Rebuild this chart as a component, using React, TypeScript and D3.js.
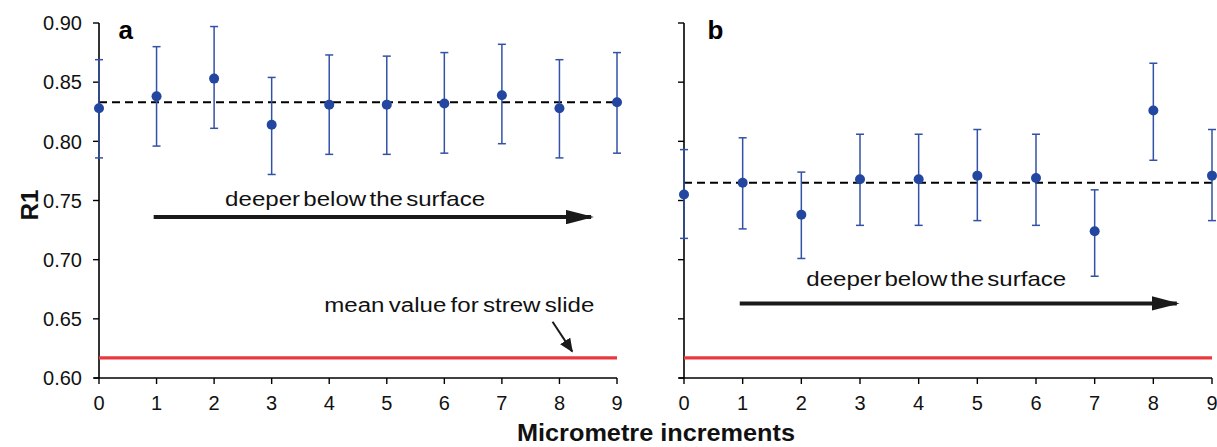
import * as d3 from 'd3';

// Micrometre increments (x categories)
const increments = [0, 1, 2, 3, 4, 5, 6, 7, 8, 9];
const yTicks = [0.6, 0.65, 0.7, 0.75, 0.8, 0.85, 0.9];

// Panel a
const meanA = [0.828, 0.838, 0.853, 0.814, 0.831, 0.831, 0.832, 0.839, 0.828, 0.833];
const upperA = [0.869, 0.88, 0.897, 0.854, 0.873, 0.872, 0.875, 0.882, 0.869, 0.875];
const lowerA = [0.786, 0.796, 0.811, 0.772, 0.789, 0.789, 0.79, 0.798, 0.786, 0.79];
const overallA = 0.833;

// Panel b
const meanB = [0.755, 0.765, 0.738, 0.768, 0.768, 0.771, 0.769, 0.724, 0.826, 0.771];
const upperB = [0.793, 0.803, 0.774, 0.806, 0.806, 0.81, 0.806, 0.759, 0.866, 0.81];
const lowerB = [0.718, 0.726, 0.701, 0.729, 0.729, 0.733, 0.729, 0.686, 0.784, 0.733];
const overallB = 0.765;

// mean value for strew slide
const strewMean = 0.617;

const FONT = 'Arial, "Liberation Sans", Helvetica, sans-serif';
const DOT = '#2346a0';
const BAR = '#3352a6';
const RED = '#e8393e';
const INK = '#1a1a1a';

const y = d3.scaleLinear().domain([0.6, 0.9]).range([378, 23]);

interface PanelProps {
  id: string;
  label: string;
  labelAt: number;
  x0: number;
  x1: number;
  means: number[];
  uppers: number[];
  lowers: number[];
  overall: number;
  showYLabels: boolean;
  arrow: { from: number; to: number; y: number; textX: number; textY: number };
  note?: boolean;
}

function Panel({ id, label, labelAt, x0, x1, means, uppers, lowers, overall, showYLabels, arrow, note }: PanelProps) {
  const x = d3.scaleLinear().domain([0, 9]).range([x0, x1]);
  const cap = 4;
  return (
    <g>
      <defs>
        <marker id={`head-${id}`} viewBox="0 0 10 10" refX="9" refY="5" markerWidth="7" markerHeight="3.6" orient="auto" markerUnits="strokeWidth" preserveAspectRatio="none">
          <path d="M0,0 L10,5 L0,10 Z" fill={INK} />
        </marker>
        <marker id={`small-${id}`} viewBox="0 0 10 10" refX="9" refY="5" markerWidth="7" markerHeight="6" orient="auto" markerUnits="strokeWidth" preserveAspectRatio="none">
          <path d="M0,0 L10,5 L0,10 Z" fill={INK} />
        </marker>
      </defs>

      {/* axes */}
      <line x1={x(0)} x2={x(0)} y1={y(0.9)} y2={y(0.6)} stroke="#000" strokeWidth={1.6} />
      <line x1={x(0) - 5} x2={x(9)} y1={y(0.6)} y2={y(0.6)} stroke="#000" strokeWidth={1.6} />
      {yTicks.map((t) => (
        <g key={t}>
          <line x1={x(0) - 6} x2={x(0)} y1={y(t)} y2={y(t)} stroke="#000" strokeWidth={1.4} />
          {showYLabels && (
            <text x={x(0) - 17} y={y(t)} dy="0.36em" textAnchor="end" fontSize={20} fontFamily={FONT} fill="#111">
              {d3.format('.2f')(t)}
            </text>
          )}
        </g>
      ))}
      {increments.map((t) => (
        <g key={t}>
          <line x1={x(t)} x2={x(t)} y1={y(0.6)} y2={y(0.6) + 6} stroke="#000" strokeWidth={1.4} />
          <text x={x(t)} y={y(0.6) + 32} textAnchor="middle" fontSize={20} fontFamily={FONT} fill="#111">
            {t}
          </text>
        </g>
      ))}

      {/* strew slide mean */}
      <line x1={x(0)} x2={x(9)} y1={y(strewMean)} y2={y(strewMean)} stroke={RED} strokeWidth={3.2} />

      {/* overall mean */}
      <line x1={x(0)} x2={x(9)} y1={y(overall)} y2={y(overall)} stroke="#000" strokeWidth={2} strokeDasharray="8 5" />

      {/* error bars and points */}
      {increments.map((t, i) => (
        <g key={t}>
          <line x1={x(t)} x2={x(t)} y1={y(uppers[i])} y2={y(lowers[i])} stroke={BAR} strokeWidth={1.5} />
          <line x1={x(t) - cap} x2={x(t) + cap} y1={y(uppers[i])} y2={y(uppers[i])} stroke={BAR} strokeWidth={1.5} />
          <line x1={x(t) - cap} x2={x(t) + cap} y1={y(lowers[i])} y2={y(lowers[i])} stroke={BAR} strokeWidth={1.5} />
          <circle cx={x(t)} cy={y(means[i])} r={5} fill={DOT} />
        </g>
      ))}

      {/* depth arrow */}
      <line x1={x(arrow.from)} x2={x(arrow.to)} y1={y(arrow.y)} y2={y(arrow.y)} stroke={INK} strokeWidth={4} markerEnd={`url(#head-${id})`} />
      <text x={x(arrow.textX)} y={y(arrow.textY)} textAnchor="middle" fontSize={21} fontFamily={FONT} fill="#111" wordSpacing={-3} textLength={260} lengthAdjust="spacingAndGlyphs">
        deeper below the surface
      </text>

      {note && (
        <g>
          <text x={x(6.26)} y={y(0.6555)} textAnchor="middle" fontSize={20} fontFamily={FONT} fill="#111" wordSpacing={-2} textLength={270} lengthAdjust="spacingAndGlyphs">
            mean value for strew slide
          </text>
          <line x1={x(7.88)} x2={x(8.22)} y1={y(0.6475)} y2={y(0.6225)} stroke={INK} strokeWidth={2} markerEnd={`url(#small-${id})`} />
        </g>
      )}

      <text x={x(labelAt)} y={y(0.9) + 16} fontSize={26} fontWeight="bold" fontFamily={FONT} fill="#000">
        {label}
      </text>
    </g>
  );
}

export default function App() {
  return (
    <svg width={1217} height={447} style={{ position: 'fixed', left: 0, top: 0, background: '#fff' }}>
      <rect width={1217} height={447} fill="#fff" />
      <Panel
        id="a"
        label="a"
        labelAt={0.34}
        x0={99}
        x1={617}
        means={meanA}
        uppers={upperA}
        lowers={lowerA}
        overall={overallA}
        showYLabels
        arrow={{ from: 0.95, to: 8.55, y: 0.736, textX: 4.45, textY: 0.7455 }}
        note
      />
      <Panel
        id="b"
        label="b"
        labelAt={0.4}
        x0={684}
        x1={1212}
        means={meanB}
        uppers={upperB}
        lowers={lowerB}
        overall={overallB}
        showYLabels={false}
        arrow={{ from: 0.95, to: 8.4, y: 0.663, textX: 4.3, textY: 0.6775 }}
      />
      <text transform="translate(38,205) rotate(-90)" textAnchor="middle" fontSize={24} fontWeight="bold" fontFamily={FONT} fill="#111">
        R1
      </text>
      <text x={656} y={441} textAnchor="middle" fontSize={23} fontWeight="bold" fontFamily={FONT} fill="#111" textLength={278} lengthAdjust="spacingAndGlyphs">
        Micrometre increments
      </text>
    </svg>
  );
}
